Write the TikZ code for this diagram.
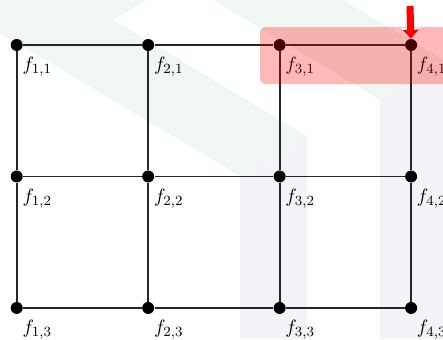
\documentclass[tikz,border=0pt]{standalone}
\usepackage{amsmath,amssymb}
\usepackage{tikz}
\usetikzlibrary{positioning,arrows.meta}

\definecolor{wmgreen}{RGB}{240,247,242}
\definecolor{wmgray}{RGB}{242,243,246}

\begin{document}
\begin{tikzpicture}[
        x=0.02cm, y=-0.02cm,
        node distance=2.63cm,
        on grid,
        dot/.style={circle, fill=black, inner sep=0pt, minimum size=0.24cm,
                    label distance=0pt},
        edge/.style={draw=black!85, line width=1pt},
        lbl/.style={inner sep=0pt, xshift=0.02cm, yshift=-0.15cm,
                    font=\fontsize{11}{13}\selectfont}
    ]
      \useasboundingbox (0,0) rectangle (443,339);

      % faint watermark in the background
      \fill[wmgreen] (0,0) -- (147,0) -- (113,20) -- (307,136) -- (240,176) -- (0,33) -- cycle;
      \fill[wmgreen] (213,0) -- (343,0) -- (443,60) -- (443,62) -- (380,100) -- cycle;
      \fill[wmgray] (240,176) -- (307,136) -- (307,339) -- (240,339) -- cycle;
      \fill[wmgray] (380,100) -- (443,62) -- (443,339) -- (380,339) -- cycle;

      \node[dot, label={[lbl]below right:$f_{1,1}$}] (f11) at (16.7,45) {};
      \node[dot, label={[lbl]below right:$f_{2,1}$}, right=of f11] (f21) {};
      \node[dot, label={[lbl]below right:$f_{3,1}$}, right=of f21] (f31) {};
      \node[dot, label={[lbl]below right:$f_{4,1}$}, right=of f31] (f41) {};

      \node[dot, label={[lbl]below right:$f_{1,2}$}, below=of f11] (f12) {};
      \node[dot, label={[lbl]below right:$f_{2,2}$}, right=of f12] (f22) {};
      \node[dot, label={[lbl]below right:$f_{3,2}$}, right=of f22] (f32) {};
      \node[dot, label={[lbl]below right:$f_{4,2}$}, right=of f32] (f42) {};

      \node[dot, label={[lbl]below right:$f_{1,3}$}, below=of f12] (f13) {};
      \node[dot, label={[lbl]below right:$f_{2,3}$}, right=of f13] (f23) {};
      \node[dot, label={[lbl]below right:$f_{3,3}$}, right=of f23] (f33) {};
      \node[dot, label={[lbl]below right:$f_{4,3}$}, right=of f33] (f43) {};

      \draw[edge] (f11) -- (f21) -- (f31) -- (f41);
      \draw[edge] (f12) -- (f22) -- (f32) -- (f42);
      \draw[edge] (f13) -- (f23) -- (f33) -- (f43);
      \draw[edge] (f11) -- (f12) -- (f13);
      \draw[edge] (f21) -- (f22) -- (f23);
      \draw[edge] (f31) -- (f32) -- (f33);
      \draw[edge] (f41) -- (f42) -- (f43);

      % highlighted row
      \fill[red, opacity=0.28, rounded corners=0.12cm] (260,27) rectangle (460,84);

      \coordinate (mark) at (410,6);
      \draw[white, line width=0.14cm, -{Triangle[length=0.22cm, width=0.38cm]}] (mark) -- (f41);
      \draw[red, line width=0.14cm, -{Triangle[length=0.18cm, width=0.31cm]}] (mark) -- (f41);
    \end{tikzpicture}
\end{document}
